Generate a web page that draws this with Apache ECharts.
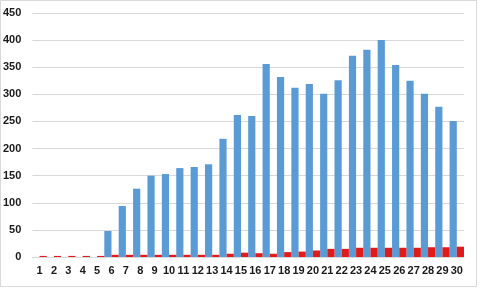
<!DOCTYPE html>
<html>
<head>
<meta charset="utf-8">
<script src="https://cdn.jsdelivr.net/npm/echarts@6/dist/echarts.min.js"></script>
<style>
html,body{margin:0;padding:0;background:#fff;}
#c{width:480px;height:288px;}
</style>
</head>
<body>
<div id="c"></div>
<script>
var categories = ['1','2','3','4','5','6','7','8','9','10','11','12','13','14','15','16','17','18','19','20','21','22','23','24','25','26','27','28','29','30'];
var blueValues = [0,0,0,0,0,48,94,126,150,153,164,166,171,218,262,260,356,332,312,319,301,326,371,382,400,354,325,301,277,251];
var redValues = [2,2,2,2,2,4,4,4,4,4,4,4,4,6,8,7,6,9,10,12,15,15,17,17,17,17,17,18,18,19];
var yTicks = {min:0, max:450, interval:50};

var chart = echarts.init(document.getElementById('c'), null, {renderer:'canvas'});
chart.setOption({
  animation:false,
  backgroundColor:'#fff',
  graphic:[{
    type:'rect', shape:{x:0.5,y:0.5,width:476,height:286},
    style:{fill:'none', stroke:'#d9d9d9', lineWidth:1}, z:-1
  }],
  grid:{left:32, right:16, top:13, bottom:31, containLabel:false},
  xAxis:{
    type:'category', data:categories,
    axisLine:{show:true, lineStyle:{color:'#d9d9d9', width:1}},
    axisTick:{show:false},
    axisLabel:{interval:0, margin:8, fontSize:11, fontWeight:'bold', color:'#1a1a1a', fontFamily:'Liberation Sans'}
  },
  yAxis:{
    type:'value', min:yTicks.min, max:yTicks.max, interval:yTicks.interval,
    axisLine:{show:false}, axisTick:{show:false},
    splitLine:{lineStyle:{color:'#d9d9d9', width:1}},
    axisLabel:{margin:11, fontSize:11, fontWeight:'bold', color:'#1a1a1a', fontFamily:'Liberation Sans'}
  },
  series:[
    {type:'bar', data:blueValues, barGap:'0%', barCategoryGap:'0%', itemStyle:{color:'#5b9bd5'}},
    {type:'bar', data:redValues, barGap:'0%', barCategoryGap:'0%', itemStyle:{color:'#e01b1b'}}
  ]
});
</script>
</body>
</html>
